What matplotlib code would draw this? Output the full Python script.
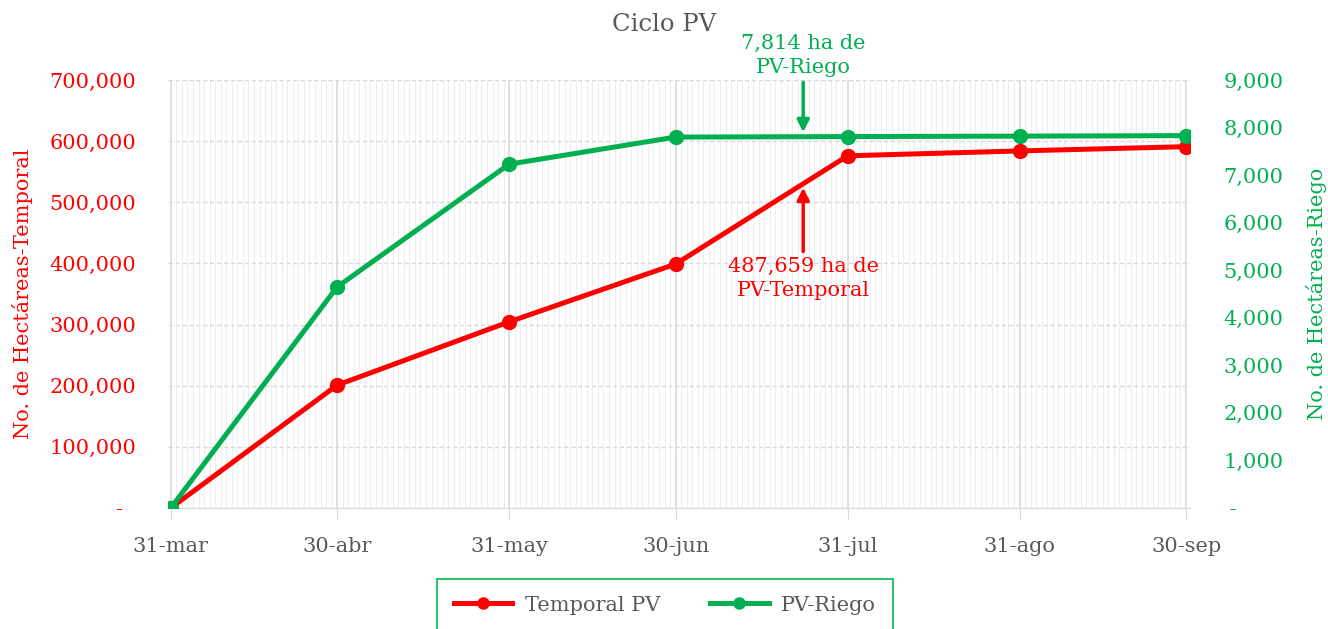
import datetime as dt
import matplotlib
matplotlib.use('Agg')
import matplotlib.pyplot as plt
import matplotlib.dates as mdates
from matplotlib.ticker import FuncFormatter, MultipleLocator

# datos
fechas = ['2021-03-31', '2021-04-30', '2021-05-31', '2021-06-30',
          '2021-07-31', '2021-08-31', '2021-09-30']
etiquetas = ['31-mar', '30-abr', '31-may', '30-jun', '31-jul', '31-ago', '30-sep']
temporal = [0, 201000, 304500, 399000, 576000, 584000, 591000]
riego = [0, 4650, 7230, 7800, 7810, 7820, 7830]

nota_fecha = '2021-07-23'
nota_riego = '7,814 ha de\nPV-Riego'
nota_temporal = '487,659 ha de\nPV-Temporal'

ROJO = '#FF0000'
VERDE = '#00B050'
GRIS = '#595959'
FS = 15

plt.rcParams['font.family'] = ['DejaVu Serif']

x = [dt.datetime.strptime(f, '%Y-%m-%d') for f in fechas]
xn = dt.datetime.strptime(nota_fecha, '%Y-%m-%d')

fig = plt.figure(figsize=(13.28, 6.29), dpi=100)
ax1 = fig.add_axes([0.1265, 0.1924, 0.7695, 0.6804])
ax2 = ax1.twinx()

def fmt_izq(v, pos):
    if abs(v) < 1e-9:
        return '-  '
    return '{:,.0f}'.format(v)

def fmt_der(v, pos):
    if abs(v) < 1e-9:
        return ' -'
    return '{:,.0f}'.format(v)

l1, = ax1.plot(x, temporal, color=ROJO, lw=3.6, marker='o', ms=10, label='Temporal PV', zorder=3)
l2, = ax2.plot(x, riego, color=VERDE, lw=3.6, marker='o', ms=10, label='PV-Riego', zorder=3)

ax1.set_xlim(x[0] - dt.timedelta(days=0.5), x[-1] + dt.timedelta(days=0.7))
ax1.set_ylim(0, 700000)
ax2.set_ylim(0, 9000)
ax1.yaxis.set_major_locator(MultipleLocator(100000))
ax2.yaxis.set_major_locator(MultipleLocator(1000))
ax1.yaxis.set_major_formatter(FuncFormatter(fmt_izq))
ax2.yaxis.set_major_formatter(FuncFormatter(fmt_der))

ax1.set_xticks(x)
ax1.set_xticklabels(etiquetas)
ax1.xaxis.set_minor_locator(mdates.DayLocator())

ax1.grid(axis='x', which='minor', color='#EEEEEE', lw=0.8)
ax1.grid(axis='x', which='major', color='#D9D9D9', lw=1.2)
ax1.grid(axis='y', which='major', color='#D9D9D9', lw=1.0, ls=(0, (3, 2)))
ax1.set_axisbelow(True)

for a in (ax1, ax2):
    for s in a.spines.values():
        s.set_visible(False)
ax1.spines['bottom'].set_visible(True)
ax1.spines['bottom'].set_color('#D9D9D9')

ax1.tick_params(axis='x', which='major', length=8, color='#D9D9D9', labelcolor=GRIS, labelsize=FS, pad=13)
ax1.tick_params(axis='x', which='minor', length=0)
ax1.tick_params(axis='y', length=0, labelcolor=ROJO, labelsize=FS, pad=23)
ax2.tick_params(axis='y', length=0, labelcolor=VERDE, labelsize=FS, pad=24)

ax1.set_ylabel('No. de Hectáreas-Temporal', color=ROJO, fontsize=FS, labelpad=12)
ax2.set_ylabel('No. de Hectáreas-Riego', color=VERDE, fontsize=FS, labelpad=16)

fig.suptitle('Ciclo PV', x=0.5, y=0.98, color=GRIS, fontsize=17.5)

ax2.annotate(nota_riego, xy=(xn, 7900), xytext=(0, 40), textcoords='offset points',
             ha='center', va='bottom', color=VERDE, fontsize=FS, linespacing=1.3,
             arrowprops=dict(arrowstyle='-|>', color=VERDE, lw=2.5, mutation_scale=18,
                             shrinkA=2, shrinkB=0))
ax1.annotate(nota_temporal, xy=(xn, 524000), xytext=(0, -50), textcoords='offset points',
             ha='center', va='top', color=ROJO, fontsize=FS, linespacing=1.3,
             arrowprops=dict(arrowstyle='-|>', color=ROJO, lw=2.5, mutation_scale=18,
                             shrinkA=2, shrinkB=0))

leg = fig.legend(handles=[l1, l2], loc='upper center', bbox_to_anchor=(665 / 1328, 1 - 579 / 629),
                 ncol=2, frameon=True, fancybox=False, fontsize=FS, borderpad=0.8,
                 handlelength=2.8, handletextpad=0.6, columnspacing=2.4, borderaxespad=0,
                 markerscale=0.8)
leg.get_frame().set_edgecolor(VERDE)
leg.get_frame().set_linewidth(1.5)
for t in leg.get_texts():
    t.set_color(GRIS)

fig.savefig('out.png', dpi=100)
